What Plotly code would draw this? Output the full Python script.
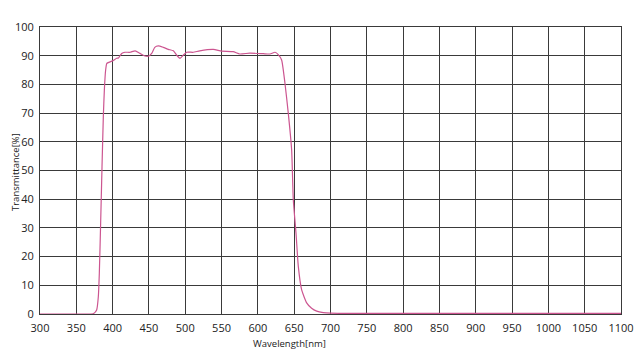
import plotly.graph_objects as go

wavelength = [300, 350, 370, 373.4, 378, 380.3, 381.7, 383.5, 385.4, 387.2, 388.6, 390.4, 392, 394, 400,
              405.6, 408, 412.5, 417, 424, 431, 437.7, 444.6, 450, 453.8, 458, 462.9, 469.8, 476.7,
              483.6, 488.2, 492.8, 497.3, 502, 511, 520, 538.6, 550, 566, 575, 589, 607.5, 616.7,
              623.6, 628, 632.7, 637.3, 641.9, 646.5, 648.8, 652.5, 655.7, 660.3, 667.2, 674, 681,
              690, 700, 750, 800, 900, 1000, 1100]
transmittance = [0, 0, 0, 0.1, 1.4, 6, 14.2, 31.6, 51.3, 68.8, 78, 85, 87.3, 87.6, 88.2,
                 89.1, 89.2, 90.8, 91.2, 91.2, 91.7, 90.8, 89.9, 89.9, 90.8, 92.9, 93.4, 92.9, 92.2,
                 91.7, 90.2, 89.1, 90.2, 91.2, 91.2, 91.7, 92.2, 91.6, 91.4, 90.6, 90.9, 90.7, 90.6,
                 91.2, 90.4, 88.5, 80.4, 69.9, 57.1, 39.7, 28.2, 16.5, 8.4, 3.9, 2.0, 1.0,
                 0.5, 0.3, 0.2, 0.2, 0.2, 0.2, 0.2]

x_ticks = list(range(300, 1101, 50))
y_ticks = list(range(0, 101, 10))

L, R, T, B = 40, 19, 27, 49
W, H = 640, 363

fig = go.Figure()
fig.add_trace(go.Scatter(x=wavelength, y=transmittance, mode="lines",
                         line=dict(color="#cc5590", width=1.2, shape="spline", smoothing=0.5),
                         showlegend=False, hoverinfo="skip"))

axis_common = dict(showgrid=True, gridcolor="#3a3a3a", gridwidth=1,
                   showline=True, linecolor="#3a3a3a", linewidth=1, mirror=True,
                   zeroline=False, ticks="", tickfont=dict(size=11), automargin=False)

fig.update_layout(
    width=W, height=H,
    margin=dict(l=L, r=R, t=T, b=B, autoexpand=False),
    paper_bgcolor="white", plot_bgcolor="white",
    font=dict(family="Open Sans, DejaVu Sans, sans-serif", size=11, color="#222222"),
    xaxis=dict(range=[300, 1100], tickvals=x_ticks, ticktext=[str(v) for v in x_ticks],
               ticklabelstandoff=4, **axis_common),
    yaxis=dict(range=[0, 100], tickvals=y_ticks, ticktext=[str(v) for v in y_ticks],
               ticklabelstandoff=3, **axis_common),
)

pw = W - L - R
ph = H - T - B


def px2paper(px, py):
    return (px - L) / pw, (H - B - py) / ph


ax, ay = px2paper(289, 343)
bx, by = px2paper(15, 172)
fig.add_annotation(text="Wavelength[nm]", x=ax, y=ay, xref="paper", yref="paper",
                   xanchor="center", yanchor="middle",
                   showarrow=False, font=dict(size=9.5, color="#222222"))
fig.add_annotation(text="Transmittance[%]", x=bx, y=by, xref="paper", yref="paper",
                   xanchor="center", yanchor="middle",
                   showarrow=False, textangle=-90, font=dict(size=9.5, color="#222222"))

fig.write_html("out.html", config={"displayModeBar": False},
               post_script="document.body.style.margin='0';document.body.style.overflow='hidden';")
